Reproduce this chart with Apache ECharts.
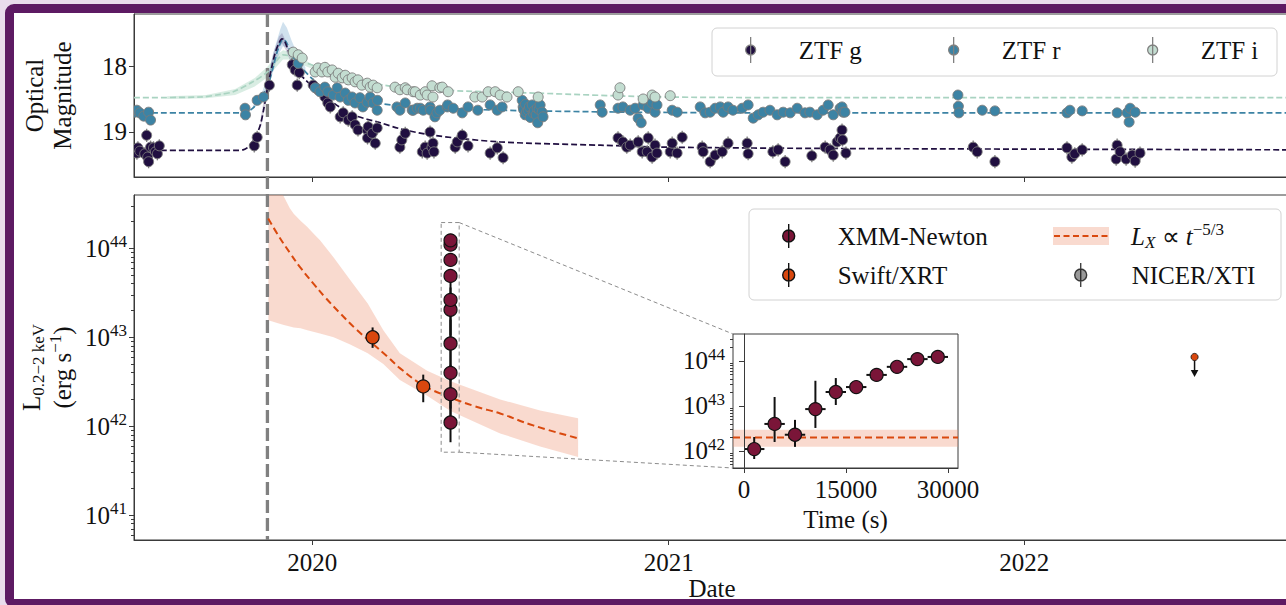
<!DOCTYPE html>
<html>
<head>
<meta charset="utf-8">
<title>Optical and X-ray light curves</title>
<script src="https://cdn.jsdelivr.net/npm/echarts@6/dist/echarts.min.js"></script>
<style>
  html, body { margin: 0; padding: 0; width: 1286px; height: 605px; overflow: hidden; background: #e9dcec; }
  #frame { position: absolute; left: 5px; top: 4px; width: 1320px; height: 586px; border: 9px solid #5d1a63; border-radius: 9px; background: #fff; }
  #chart { position: absolute; left: 0; top: 0; width: 1286px; height: 605px; }
</style>
</head>
<body>
<div id="frame"></div>
<div id="chart"></div>
<script>
// ---------------- data ----------------
// ZTF forced photometry, [MJD, AB magnitude]
const ztfG = [
  [58669,19.32],[58670,19.24],[58672,19.29],[58677,19.33],[58679,19.05],[58680,19.38],[58681,19.45],[58683,19.23],
  [58686,19.24],[58688,19.30],[58690,19.33],[58692,19.21],
  [58789.5,19.21],[58792.5,19.08],[58805,18.29],
  [58828.5,17.98],[58831.5,18.06],[58833.6,18.29],[58835.7,18.10],
  [58850,18.29],[58855,18.36],[58862,18.47],[58865,18.56],[58867.5,18.62],[58877.7,18.77],[58880.8,18.71],[58886,18.82],
  [58890,18.77],[58893,18.89],[58896,18.97],[58905.5,18.97],[58905.8,19.09],[58906.5,18.92],[58910.6,19.02],[58913.7,19.17],
  [58915.7,18.94],[58939,19.23],[58941,19.12],[58944.5,19.02],[58962,19.30],[58965,19.23],[58967,19.32],[58970,19.00],
  [58972,19.23],[58973,19.17],[58974,19.30],[58995.8,19.23],[58997.9,19.15],[59003,19.05],[59009,19.21],[59031.7,19.32],
  [59039,19.24],[59045,19.39],
  [59163,19.09],[59168,19.15],[59172,19.23],[59175.5,19.20],[59183.7,19.15],[59187.8,19.30],[59193,19.30],[59194,19.09],
  [59198,19.38],[59201,19.20],[59203,19.32],[59216.6,19.30],[59218.6,19.17],[59223.7,19.32],[59228.9,19.08],[59249.4,19.23],
  [59250.4,19.30],[59257.6,19.45],[59262.8,19.35],[59270,19.30],[59276,19.17],[59295.6,19.17],[59296.6,19.33],[59322,19.30],
  [59327.4,19.27],[59334.6,19.45],[59362,19.36],[59375.7,19.23],[59380.8,19.27],[59384,19.35],[59388,19.15],[59391,19.09],
  [59393,18.97],[59393.5,19.12],[59397,19.32],
  [59527.7,19.23],[59531.8,19.30],[59550,19.45],[59624,19.24],[59629,19.38],[59632,19.33],[59639.6,19.27],[59674.5,19.41],
  [59675.5,19.20],[59678.6,19.30],[59684.7,19.41],[59691,19.35],[59694,19.44],[59699,19.32]
];
const ztfR = [
  [58667,18.70],[58669,18.67],[58672,18.71],[58676,18.76],[58681,18.70],[58683,18.82],
  [58780,18.64],[58780.5,18.74],[58792.5,18.52],[58799,18.47],
  [58834.6,17.96],[58852,18.33],[58857,18.39],[58862,18.32],[58865,18.39],[58870.6,18.44],[58874.7,18.33],[58877.7,18.47],
  [58882.9,18.41],[58886,18.52],[58890,18.47],[58893,18.56],[58898,18.48],[58901,18.62],[58905.5,18.55],[58908.5,18.47],
  [58911.6,18.56],[58915.7,18.67],[58916,18.52],[58936,18.62],[58939,18.67],[58944.5,18.56],[58951.7,18.67],[58952.7,18.67],
  [58956.8,18.64],[58960,18.64],[58963,18.67],[58970,18.62],[58970.5,18.67],[58975,18.77],[58977,18.71],[58980,18.67],
  [58987.6,18.62],[58988,18.59],[58993.8,18.64],[59003,18.71],[59009,18.62],[59019,18.67],[59031.7,18.59],[59039,18.67],
  [59044,18.62],
  [59064.6,18.52],[59065.6,18.62],[59066,18.66],[59067.7,18.74],[59068,18.58],[59069,18.70],[59070.8,18.67],[59072,18.62],
  [59073,18.78],[59074.9,18.59],[59075.9,18.71],[59077,18.68],[59079,18.74],[59080,18.64],[59080.5,18.86],[59082,18.66],
  [59083,18.59],[59085,18.70],[59086,18.77],
  [59144.7,18.59],[59146.7,18.70],[59163,18.64],[59168,18.62],[59175.5,18.67],[59180.6,18.64],[59183.7,18.79],[59186.8,18.86],
  [59188.8,18.59],[59194,18.64],[59198,18.56],[59201,18.70],[59203,18.59],[59218.6,18.67],[59223.7,18.70],
  [59247.4,18.62],[59252.5,18.71],[59257.6,18.70],[59262.8,18.64],[59268,18.62],[59271,18.70],[59276,18.62],[59281,18.67],
  [59290.5,18.64],[59296.6,18.59],[59301.8,18.79],[59307,18.74],[59312,18.70],[59319,18.67],[59326.4,18.74],[59332.6,18.70],
  [59339.8,18.71],[59347,18.64],[59355,18.71],[59360,18.70],[59367.5,18.74],[59373.6,18.67],[59378.8,18.59],[59384,18.74],
  [59391,18.64],[59393,18.62],[59394,18.70],[59396,18.70],
  [59512,18.44],[59512.5,18.61],[59513,18.71],[59537,18.67],[59550,18.68],[59624,18.71],[59627,18.67],[59639.6,18.68],
  [59675.5,18.71],[59685.8,18.71],[59687.8,18.85],[59688.8,18.64],[59694,18.70]
];
const ztfI = [
  [58829.5,17.79],[58834.6,17.83],[58838.7,17.88],[58852,18.09],[58855,18.03],[58859,18.09],[58862,18.02],[58865,18.09],
  [58869.5,18.06],[58872.6,18.17],[58875.7,18.11],[58879.8,18.18],[58882.9,18.14],[58886,18.21],[58890,18.18],[58893,18.24],
  [58896,18.21],[58900,18.29],[58905.5,18.26],[58908.5,18.32],[58911.6,18.29],[58915.7,18.33],[58934,18.32],[58939,18.36],
  [58944.5,18.33],[58946.5,18.36],[58952.7,18.39],[58954.7,18.39],[58960,18.44],[58965,18.39],[58967,18.44],[58972,18.30],
  [58973,18.47],[58980,18.33],[58982.5,18.32],[58988.6,18.39],[59016,18.47],[59023.5,18.47],[59029.7,18.39],[59036.9,18.39],
  [59042,18.44],[59049,18.47],[59060.5,18.39],[59081,18.47],[59163,18.44],[59165,18.33],[59188.8,18.50],[59198,18.44],
  [59201,18.47],[59216.6,18.45]
];
// typical 1-sigma photometric errors (mag)
const ztfGErr = 0.10, ztfRErr = 0.06, ztfIErr = 0.06;

// host + flare model light curves, [MJD, mag]
const modelG = [
  [58666,19.28],[58770,19.28],[58778,19.27],[58783,19.23],[58788,19.14],[58792.5,19.02],[58796,18.88],[58799,18.67],
  [58804,18.26],[58808,17.98],[58811,17.80],[58815,17.65],[58818,17.59],[58820,17.60],[58823,17.71],[58829.5,17.95],
  [58840,18.18],[58854,18.36],[58871,18.56],[58891,18.74],[58919,18.86],[58939,18.95],[58973,19.05],[59042,19.15],
  [59145,19.20],[59213,19.23],[59391,19.25],[59853,19.27]
];
const modelR = [
  [58666,18.71],[58775,18.71],[58782,18.70],[58788,18.64],[58792.5,18.56],[58798,18.44],[58803,18.32],[58809,18.01],
  [58814,17.74],[58819,17.60],[58822,17.63],[58826,17.76],[58831,17.90],[58837,18.01],[58854,18.26],[58871,18.41],
  [58890,18.50],[58905.5,18.55],[58957,18.62],[59042,18.67],[59178,18.70],[59300,18.71],[59853,18.71]
];
const modelI = [
  [58666,18.48],[58734,18.47],[58755,18.43],[58768,18.39],[58788,18.24],[58803,18.09],[58813,17.91],[58819,17.83],
  [58824,17.84],[58829.5,17.88],[58854,18.01],[58888,18.16],[58922,18.29],[58973,18.36],[59076,18.41],[59213,18.47],
  [59400,18.48],[59853,18.48]
];
// model uncertainty envelopes: dates, faint edge, bright edge (mag)
const bandGDate = [58796,58803,58809,58815,58818,58822,58828,58836];
const bandGFaint = [18.95,18.42,18.00,17.72,17.66,17.76,17.98,18.14];
const bandGBright = [18.80,18.20,17.80,17.55,17.50,17.62,17.88,18.06];
const bandRDate = [58788,58798,58805,58811,58816,58819,58823,58828,58835,58842];
const bandRFaint = [18.66,18.50,18.28,17.98,17.78,17.70,17.72,17.86,18.00,18.10];
const bandRBright = [18.60,18.38,18.05,17.70,17.45,17.33,17.42,17.62,17.86,18.02];
const bandIDate = [58700,58740,58770,58790,58803,58813,58819,58825,58835,58850];
const bandIFaint = [18.50,18.49,18.44,18.31,18.17,18.00,17.90,17.90,17.96,18.05];
const bandIBright = [18.46,18.44,18.35,18.18,18.01,17.83,17.76,17.78,17.86,17.98];

// estimated disruption epoch (MJD)
const tdeDate = 58803;

// XMM-Newton time-resolved luminosities (0.2-2 keV, erg/s) within one observation
const xmmDate = 58991;
const xmmTime = [1500, 4500, 7500, 10500, 13500, 16500, 19500, 22500, 25500, 28500];
const xmmTimeErr = 1500;
const xmmLum   = [1.10e42, 3.98e42, 2.29e42, 8.51e42, 2.04e43, 2.63e43, 4.90e43, 7.41e43, 1.10e44, 1.23e44];
const xmmLumLo = [6.6e41, 1.58e42, 1.23e42, 3.24e42, 1.05e43, 2.14e43, 4.37e43, 6.76e43, 1.02e44, 1.15e44];
const xmmLumHi = [2.04e42, 1.58e43, 4.90e42, 3.63e43, 4.17e43, 3.16e43, 5.50e43, 8.13e43, 1.18e44, 1.32e44];

// Swift/XRT detections and upper limit
const swiftDate = [58911, 58963];
const swiftLum = [1.00e43, 2.80e42];
const swiftLumLo = [7.6e42, 1.86e42];
const swiftLumHi = [1.29e43, 3.80e42];
const swiftUlDate = [59755];
const swiftUlLum = [6.0e42];

// L_X ~ t^(-5/3) decline and its envelope
const fitDate = [58803.8, 58814.1, 58826.4, 58836.7, 58850, 58862.3, 58877.7, 58893.1, 58910.6, 58926, 58939.3, 58963, 58990.7, 59016.4, 59042, 59075.9, 59122.1];
const fitLum = [2.17e44, 1.40e44, 8.79e43, 6.11e43, 4.04e43, 2.81e43, 1.86e43, 1.26e43, 8.53e42, 6.10e42, 4.47e42, 2.88e42, 2.11e42, 1.67e42, 1.39e42, 1.02e42, 7.3e41];
const fitBandDate = [58804, 58813, 58819, 58826, 58830, 58837, 58844, 58850, 58857, 58871, 58888, 58906, 58922, 58939, 58967, 58991, 59042, 59083, 59122];
const fitBandHi = [1.0e45, 6.3e44, 3.98e44, 2.82e44, 2.45e44, 2.04e44, 1.74e44, 1.48e44, 1.23e44, 7.9e43, 4.4e43, 2.4e43, 1.2e43, 6.6e42, 4.2e42, 3.2e42, 2.0e42, 1.5e42, 1.23e42];
const fitBandLo = [1.55e43, 1.45e43, 1.38e43, 1.32e43, 1.29e43, 1.26e43, 1.2e43, 1.15e43, 1.1e43, 1.0e43, 8.3e42, 6.6e42, 5.0e42, 3.3e42, 2.2e42, 1.48e42, 8.3e41, 5.9e41, 4.5e41];
// expected level during the XMM observation
const insetFitLum = 2.0e42, insetFitLo = 1.23e42, insetFitHi = 2.95e42;

// region around the XMM epoch that the inset expands
const zoomBoxDate = [58981.4, 58999.9];
const zoomBoxLum = [5.1e41, 1.95e44];

// ticks
const yearTicks = [58849, 59215, 59580];
const yearLabels = ['2020', '2021', '2022'];
const magTicks = [18, 19];
const lumDecades = [41, 42, 43, 44];
const insetDecades = [42, 43, 44];
const timeTicks = [0, 15000, 30000];

// ---------------- layout & style ----------------
const FONT = 'Liberation Serif';
const INK = '#111';
const AXIS = '#3a3a3a';
const TOP = { left: 134, top: 14, width: 1156, height: 163 };
const BOT = { left: 134, top: 195, width: 1156, height: 345 };
const INS = { left: 733, top: 334, width: 225, height: 134 };
const X_RANGE = [58666, 59853];
const MAG_RANGE = [17.212, 19.682];
const LUM_RANGE = [40.72, 44.6];
const INS_LUM_RANGE = [41.62, 44.6];
const INS_T_RANGE = [-1618, 31470];

const C_G = '#200f40', C_R = '#3c83a4', C_I = '#c3ddd1', C_I_LINE = '#a9d3c1';
const C_XMM = '#7a1538', C_SWIFT = '#d9470e', C_NICER = '#808080', C_FIT = '#d9490e';
const FIT_FILL = 'rgba(238,150,118,0.35)';

const lg = v => Math.log10(v);
const txt = { fontFamily: FONT, fontSize: 25, color: INK };

const lumRich = {
  b: { fontFamily: FONT, fontSize: 25, lineHeight: 30, color: INK },
  s: { fontFamily: FONT, fontSize: 17, lineHeight: 17, verticalAlign: 'top', color: INK }
};
const decadeLabel = v => '{b|10}{s|' + Math.round(v) + '}';

function minorLogTicks(lo, hi) {
  const out = [];
  for (let n = Math.floor(lo); n <= Math.ceil(hi); n++) {
    for (let k = 2; k <= 9; k++) {
      const v = n + Math.log10(k);
      if (v > lo && v < hi) out.push(v);
    }
  }
  return out;
}

const tickStyle = { lineStyle: { color: AXIS, width: 1 } };
const axisLine = { show: true, lineStyle: { color: AXIS, width: 1 } };

// ---------------- series builders ----------------
function envelope(name, xi, yi, xs, lo, hi, fill, z) {
  return {
    type: 'custom', name, xAxisIndex: xi, yAxisIndex: yi, z, clip: true, silent: true,
    encode: { x: 0, y: [1, 2] },
    itemStyle: { color: fill },
    data: xs.map((x, i) => [x, lo[i], hi[i]]),
    renderItem(params, api) {
      if (params.dataIndex !== 0) return null;
      const pts = [];
      for (let i = 0; i < xs.length; i++) pts.push(api.coord([xs[i], hi[i]]));
      for (let i = xs.length - 1; i >= 0; i--) pts.push(api.coord([xs[i], lo[i]]));
      return { type: 'polygon', shape: { points: pts }, style: { fill } };
    }
  };
}

function modelLine(name, data, color, z) {
  return {
    type: 'line', name, xAxisIndex: 0, yAxisIndex: 0, z, data, smooth: 0.3,
    showSymbol: false, symbol: 'none', silent: true,
    lineStyle: { color, width: 1.7, type: [6, 3] }
  };
}

function photometry(name, data, err, color, z) {
  return {
    type: 'custom', name, xAxisIndex: 0, yAxisIndex: 0, z, clip: true,
    encode: { x: 0, y: 1 },
    itemStyle: { color, borderColor: '#808080', borderWidth: 1 },
    data,
    renderItem(params, api) {
      const x = api.value(0), m = api.value(1);
      const p = api.coord([x, m]);
      const a = api.coord([x, m - err]);
      const b = api.coord([x, m + err]);
      return {
        type: 'group', children: [
          { type: 'line', z2: 1, shape: { x1: p[0], y1: a[1], x2: p[0], y2: b[1] }, style: { stroke: '#808080', lineWidth: 1.3 } },
          { type: 'circle', z2: 5, shape: { cx: p[0], cy: p[1], r: 5 }, style: { fill: color, stroke: '#7a7a7a', lineWidth: 0.9 } }
        ]
      };
    }
  };
}

// rows: [x, logL, logLo, logHi, xErr]
function xrayPoints(name, xi, yi, rows, fill, z) {
  return {
    type: 'custom', name, xAxisIndex: xi, yAxisIndex: yi, z, clip: false,
    encode: { x: 0, y: 1 },
    itemStyle: { color: fill, borderColor: INK, borderWidth: 1.2 },
    data: rows,
    renderItem(params, api) {
      const x = api.value(0), y = api.value(1), xe = api.value(4);
      const p = api.coord([x, y]);
      const lo = api.coord([x, api.value(2)]);
      const hi = api.coord([x, api.value(3)]);
      const kids = [
        { type: 'line', z2: 1, shape: { x1: p[0], y1: lo[1], x2: p[0], y2: hi[1] }, style: { stroke: INK, lineWidth: 2 } }
      ];
      if (xe > 0) {
        const l = api.coord([x - xe, y]), r = api.coord([x + xe, y]);
        kids.push({ type: 'line', z2: 1, shape: { x1: l[0], y1: p[1], x2: r[0], y2: p[1] }, style: { stroke: INK, lineWidth: 2 } });
      }
      kids.push({ type: 'circle', z2: 5, shape: { cx: p[0], cy: p[1], r: 6.5 }, style: { fill, stroke: INK, lineWidth: 1.2 } });
      return { type: 'group', children: kids };
    }
  };
}

const series = [
  // --- optical panel ---
  envelope('ZTF i envelope', 0, 0, bandIDate, bandIFaint, bandIBright, 'rgba(170,214,194,0.45)', 1),
  envelope('ZTF r envelope', 0, 0, bandRDate, bandRFaint, bandRBright, 'rgba(120,168,205,0.35)', 1),
  envelope('ZTF g envelope', 0, 0, bandGDate, bandGFaint, bandGBright, 'rgba(70,45,110,0.22)', 1),
  modelLine('ZTF i model', modelI, C_I_LINE, 2),
  modelLine('ZTF r model', modelR, C_R, 2),
  modelLine('ZTF g model', modelG, C_G, 2),
  photometry('ZTF g', ztfG, ztfGErr, C_G, 3),
  photometry('ZTF r', ztfR, ztfRErr, C_R, 4),
  photometry('ZTF i', ztfI, ztfIErr, C_I, 5),

  // --- X-ray panel ---
  envelope('L_X envelope', 1, 1, fitBandDate, fitBandLo.map(lg), fitBandHi.map(lg), FIT_FILL, 1),
  {
    type: 'line', name: 'L_X fit', xAxisIndex: 1, yAxisIndex: 1, z: 2, smooth: 0.4,
    showSymbol: false, symbol: 'none', silent: true,
    itemStyle: { color: C_FIT },
    lineStyle: { color: C_FIT, width: 2, type: [7, 4] },
    data: fitDate.map((d, i) => [d, lg(fitLum[i])])
  },
  // zoom box and connectors to the inset
  {
    type: 'custom', name: 'zoom box', xAxisIndex: 1, yAxisIndex: 1, z: 2, silent: true, clip: false,
    encode: { x: [0, 2], y: [1, 3] },
    data: [[zoomBoxDate[0], lg(zoomBoxLum[0]), zoomBoxDate[1], lg(zoomBoxLum[1])]],
    renderItem(params, api) {
      const a = api.coord([api.value(0), api.value(3)]);
      const b = api.coord([api.value(2), api.value(1)]);
      const st = { stroke: '#8c8c8c', lineWidth: 1, lineDash: [4, 3], fill: 'none' };
      return {
        type: 'group', children: [
          { type: 'rect', shape: { x: a[0], y: a[1], width: b[0] - a[0], height: b[1] - a[1] }, style: st },
          { type: 'line', shape: { x1: b[0], y1: a[1], x2: INS.left, y2: INS.top }, style: st },
          { type: 'line', shape: { x1: b[0], y1: b[1], x2: INS.left, y2: INS.top + INS.height }, style: st }
        ]
      };
    }
  },
  xrayPoints('XMM-Newton', 1, 1, xmmLum.map((L, i) => [xmmDate, lg(L), lg(xmmLumLo[i]), lg(xmmLumHi[i]), 0]), C_XMM, 5),
  xrayPoints('Swift/XRT', 1, 1, swiftLum.map((L, i) => [swiftDate[i], lg(L), lg(swiftLumLo[i]), lg(swiftLumHi[i]), 0]), C_SWIFT, 5),
  {
    type: 'custom', name: 'Swift/XRT upper limit', xAxisIndex: 1, yAxisIndex: 1, z: 5,
    encode: { x: 0, y: 1 },
    data: swiftUlDate.map((d, i) => [d, lg(swiftUlLum[i])]),
    renderItem(params, api) {
      const p = api.coord([api.value(0), api.value(1)]);
      return {
        type: 'group', children: [
          { type: 'line', shape: { x1: p[0], y1: p[1], x2: p[0], y2: p[1] + 14 }, style: { stroke: INK, lineWidth: 1.5 } },
          { type: 'polygon', shape: { points: [[p[0] - 3.8, p[1] + 13], [p[0] + 3.8, p[1] + 13], [p[0], p[1] + 20]] }, style: { fill: INK } },
          { type: 'circle', shape: { cx: p[0], cy: p[1], r: 3.6 }, style: { fill: C_SWIFT, stroke: INK, lineWidth: 0.8 } }
        ]
      };
    }
  },
  {
    type: 'scatter', name: 'NICER/XTI', xAxisIndex: 1, yAxisIndex: 1, data: [],
    itemStyle: { color: C_NICER, borderColor: INK, borderWidth: 1.2 }
  },
  // disruption epoch marker spanning both panels
  {
    type: 'custom', name: 'disruption epoch', xAxisIndex: 1, yAxisIndex: 1, z: 2, silent: true, clip: false,
    encode: { x: 0 },
    data: [[tdeDate]],
    renderItem(params, api) {
      const x = api.coord([api.value(0), LUM_RANGE[0]])[0];
      return {
        type: 'line', shape: { x1: x, y1: TOP.top, x2: x, y2: BOT.top + BOT.height },
        style: { stroke: '#808080', lineWidth: 3.3, lineDash: [13, 5] }
      };
    }
  },

  // --- inset ---
  {
    type: 'line', name: 'L_X fit (orbit)', xAxisIndex: 2, yAxisIndex: 3, z: 6, silent: true,
    showSymbol: false, symbol: 'none',
    lineStyle: { color: C_FIT, width: 2, type: [7, 4] },
    data: [[INS_T_RANGE[0], lg(insetFitLum)], [INS_T_RANGE[1], lg(insetFitLum)]],
    markArea: {
      silent: true, z: 5,
      itemStyle: { color: FIT_FILL },
      data: [[{ yAxis: lg(insetFitLo) }, { yAxis: lg(insetFitHi) }]]
    }
  },
  xrayPoints('XMM-Newton', 2, 3, xmmLum.map((L, i) => [xmmTime[i], lg(L), lg(xmmLumLo[i]), lg(xmmLumHi[i]), xmmTimeErr]), C_XMM, 7)
];

// ---------------- legends ----------------
const ZTF_ICON = 'path://M5,0L5,26M0,13A5,5,0,1,1,10,13A5,5,0,1,1,0,13Z';
const XR_ICON = 'path://M6,0L6,24M0,12A6,6,0,1,1,12,12A6,6,0,1,1,0,12Z';
const fitRich = {
  it: { fontFamily: FONT, fontSize: 25, fontStyle: 'italic', lineHeight: 30 },
  n: { fontFamily: FONT, fontSize: 25, lineHeight: 30 },
  sub: { fontFamily: FONT, fontSize: 17, fontStyle: 'italic', lineHeight: 17, verticalAlign: 'bottom' },
  sup: { fontFamily: FONT, fontSize: 17, lineHeight: 17, verticalAlign: 'top' }
};
const fitText = '{it|L}{sub|X}{n| ∝ }{it|t}{sup|−5/3}';

function legendItem(name, left, top, o) {
  return {
    data: [o.icon ? { name, icon: o.icon } : { name }],
    left, top, padding: 0, selectedMode: false, z: 6,
    itemWidth: o.w, itemHeight: o.h,
    itemStyle: o.itemStyle || {},
    lineStyle: o.lineStyle,
    formatter: o.formatter,
    textStyle: Object.assign({ fontFamily: FONT, fontSize: 25, color: INK, lineHeight: 30, padding: [0, 0, 0, o.pad], rich: fitRich }, o.text || {})
  };
}

const legends = [
  legendItem('ZTF g', 745, 35, { icon: ZTF_ICON, w: 10, h: 26, pad: 38, itemStyle: { borderColor: '#808080', borderWidth: 1.3 } }),
  legendItem('ZTF r', 948, 35, { icon: ZTF_ICON, w: 10, h: 26, pad: 38, itemStyle: { borderColor: '#808080', borderWidth: 1.3 } }),
  legendItem('ZTF i', 1147, 35, { icon: ZTF_ICON, w: 10, h: 26, pad: 38, itemStyle: { borderColor: '#808080', borderWidth: 1.3 } }),
  legendItem('XMM-Newton', 782, 221, { icon: XR_ICON, w: 12, h: 24, pad: 38, itemStyle: { borderColor: INK, borderWidth: 1.4 } }),
  legendItem('Swift/XRT', 782, 260, { icon: XR_ICON, w: 12, h: 24, pad: 38, itemStyle: { borderColor: INK, borderWidth: 1.4 } }),
  legendItem('L_X envelope', 1053, 221, { icon: 'rect', w: 56, h: 18, pad: 16, itemStyle: { borderWidth: 0 },
    formatter: () => fitText, text: { color: 'rgba(0,0,0,0)' } }),
  legendItem('L_X fit', 1053, 221, { w: 56, h: 18, pad: 16, itemStyle: { opacity: 0 },
    lineStyle: { color: C_FIT, width: 2, type: [6, 3.5] }, formatter: () => fitText }),
  legendItem('NICER/XTI', 1074, 260, { icon: XR_ICON, w: 12, h: 24, pad: 40, itemStyle: { borderColor: INK, borderWidth: 1.4 } })
];

// ---------------- chart ----------------
const gridBase = { show: true, borderColor: AXIS, borderWidth: 1, outerBoundsMode: 'none', containLabel: false };
const chart = echarts.init(document.getElementById('chart'), null, { renderer: 'svg' });
chart.setOption({
  animation: false,
  textStyle: { fontFamily: FONT },
  grid: [
    Object.assign({ backgroundColor: 'transparent' }, gridBase, TOP),
    Object.assign({ backgroundColor: 'transparent' }, gridBase, BOT),
    Object.assign({ backgroundColor: '#fff', z: 0 }, gridBase, INS)
  ],
  xAxis: [
    { gridIndex: 0, type: 'value', min: X_RANGE[0], max: X_RANGE[1], axisLine,
      axisTick: Object.assign({ show: true, customValues: yearTicks, length: 5 }, tickStyle),
      axisLabel: { show: false }, splitLine: { show: false } },
    { gridIndex: 1, type: 'value', min: X_RANGE[0], max: X_RANGE[1], axisLine,
      axisTick: Object.assign({ show: true, customValues: yearTicks, length: 5 }, tickStyle),
      axisLabel: Object.assign({ customValues: yearTicks, margin: 7, lineHeight: 30,
        formatter: v => yearLabels[yearTicks.indexOf(Math.round(v))] }, txt),
      splitLine: { show: false },
      name: 'Date', nameLocation: 'middle', nameGap: 33, nameMoveOverlap: false,
      nameTextStyle: Object.assign({ lineHeight: 30 }, txt) },
    { gridIndex: 2, type: 'value', min: INS_T_RANGE[0], max: INS_T_RANGE[1], axisLine, z: 8,
      axisTick: Object.assign({ show: true, customValues: timeTicks, length: 5 }, tickStyle),
      axisLabel: Object.assign({ customValues: timeTicks, margin: 6, lineHeight: 30, formatter: v => String(Math.round(v)) }, txt),
      splitLine: { show: false },
      name: 'Time (s)', nameLocation: 'middle', nameGap: 36, nameMoveOverlap: false,
      nameTextStyle: Object.assign({ lineHeight: 30 }, txt) }
  ],
  yAxis: [
    { gridIndex: 0, type: 'value', inverse: true, min: MAG_RANGE[0], max: MAG_RANGE[1], axisLine,
      axisTick: Object.assign({ show: true, customValues: magTicks, length: 5 }, tickStyle),
      axisLabel: Object.assign({ customValues: magTicks, margin: 7, formatter: v => String(Math.round(v)) }, txt),
      splitLine: { show: false },
      name: 'Optical\nMagnitude', nameLocation: 'middle', nameRotate: 90, nameGap: 58, nameMoveOverlap: false,
      nameTextStyle: Object.assign({ lineHeight: 28 }, txt) },
    { gridIndex: 1, type: 'value', position: 'left', min: LUM_RANGE[0], max: LUM_RANGE[1], axisLine,
      axisTick: Object.assign({ show: true, customValues: lumDecades, length: 5 }, tickStyle),
      axisLabel: { customValues: lumDecades, margin: 7, formatter: decadeLabel, rich: lumRich },
      splitLine: { show: false },
      name: '{b|L}{sub|0.2−2 keV}\n{b|(erg s}{sup|−1}{b|)}', nameLocation: 'middle', nameRotate: 90, nameGap: 56,
      nameMoveOverlap: false,
      nameTextStyle: { fontFamily: FONT, fontSize: 25, color: INK, lineHeight: 31,
        rich: {
          b: { fontFamily: FONT, fontSize: 25, lineHeight: 31, color: INK },
          sub: { fontFamily: FONT, fontSize: 17, lineHeight: 17, verticalAlign: 'bottom', color: INK },
          sup: { fontFamily: FONT, fontSize: 17, lineHeight: 17, verticalAlign: 'top', color: INK }
        } } },
    { gridIndex: 1, type: 'value', position: 'left', min: LUM_RANGE[0], max: LUM_RANGE[1],
      axisLine: { show: false },
      axisTick: Object.assign({ show: true, customValues: minorLogTicks(LUM_RANGE[0], LUM_RANGE[1]), length: 3 }, tickStyle),
      axisLabel: { show: false }, splitLine: { show: false } },
    { gridIndex: 2, type: 'value', position: 'left', min: INS_LUM_RANGE[0], max: INS_LUM_RANGE[1], axisLine, z: 8,
      axisTick: Object.assign({ show: true, customValues: insetDecades, length: 5 }, tickStyle),
      axisLabel: { customValues: insetDecades, margin: 8, formatter: decadeLabel, rich: lumRich },
      splitLine: { show: false } },
    { gridIndex: 2, type: 'value', position: 'left', min: INS_LUM_RANGE[0], max: INS_LUM_RANGE[1], z: 8,
      axisLine: { show: false },
      axisTick: Object.assign({ show: true, customValues: minorLogTicks(INS_LUM_RANGE[0], INS_LUM_RANGE[1]), length: 3 }, tickStyle),
      axisLabel: { show: false }, splitLine: { show: false } }
  ],
  legend: legends,
  graphic: [
    { type: 'rect', z: 5, silent: true, shape: { x: 712, y: 28, width: 565, height: 48, r: 5 },
      style: { fill: 'rgba(255,255,255,0.85)', stroke: '#d2d2d2', lineWidth: 1 } },
    { type: 'rect', z: 5, silent: true, shape: { x: 749, y: 209, width: 532, height: 91, r: 5 },
      style: { fill: 'rgba(255,255,255,0.85)', stroke: '#d2d2d2', lineWidth: 1 } }
  ],
  series
});
</script>
</body>
</html>
